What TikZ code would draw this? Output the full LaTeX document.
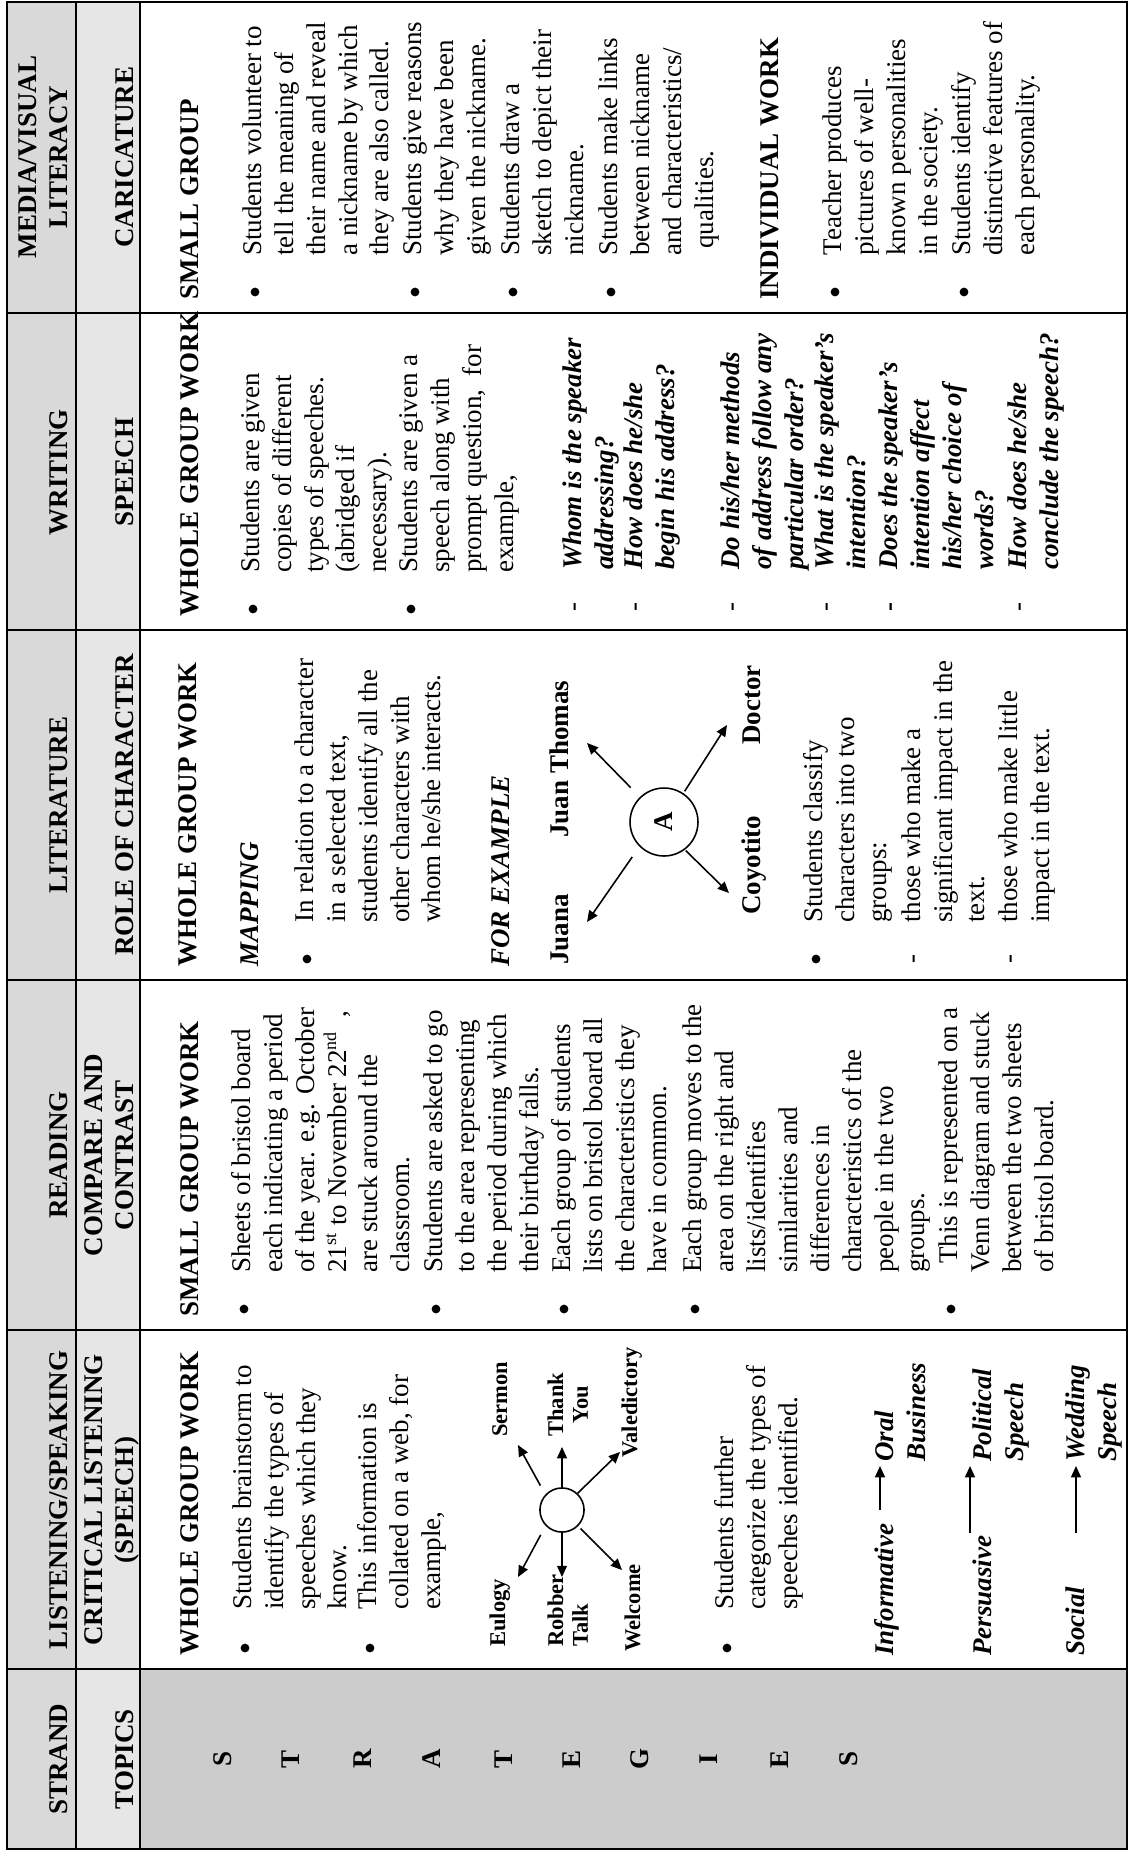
\documentclass[tikz,border=0pt]{standalone}
\usepackage{fontspec}
\setmainfont{Liberation Serif}
\usetikzlibrary{arrows.meta}

\definecolor{rowA}{HTML}{D9D9D9}
\definecolor{rowB}{HTML}{E6E6E6}
\definecolor{strandgray}{HTML}{CCCCCC}

% left-aligned and centred stacks of lines, baseline at the first line
\newcommand\mlines[1]{\begin{tabular}[t]{@{}l@{}}#1\end{tabular}}
\newcommand\clines[1]{\begin{tabular}[t]{@{}c@{}}#1\end{tabular}}

\begin{document}
\begin{tikzpicture}[x=0.4444pt,y=0.4444pt,
  hd/.style={font=\fontsize{12pt}{14pt}\selectfont\bfseries, inner sep=0pt, anchor=base},
  txt/.style={font=\fontsize{12pt}{14.22pt}\selectfont, inner sep=0pt, anchor=base west},
  btxt/.style={txt, font=\fontsize{12pt}{14.22pt}\selectfont\bfseries},
  bitxt/.style={txt, font=\fontsize{12pt}{14.22pt}\selectfont\bfseries\itshape},
  lbl/.style={font=\fontsize{10pt}{11.1pt}\selectfont\bfseries, inner sep=0pt, anchor=base west},
  bul/.style={circle, fill=black, inner sep=0pt, minimum size=3.9pt},
  arr/.style={-{Triangle[length=5pt,width=4.4pt]}, line width=0.7pt},
  grid/.style={line width=0.9pt},
  hub/.style={circle, draw, line width=0.7pt, inner sep=0pt},
]
\useasboundingbox (0,0) rectangle (1130,-1857);

% the table is laid out in landscape and turned a quarter turn
\begin{scope}[shift={(0,-1857)}, rotate=90, transform shape]

% shading of header rows and of the first column
\fill[rowA] (8,-7) rectangle (1855,-76);
\fill[rowB] (8,-76) rectangle (1855,-140);
\fill[strandgray] (8,-140) rectangle (188,-1127);

% rules
\draw[grid] (8,-7) rectangle (1855,-1127);
\draw[grid] (8,-76) -- (1855,-76);
\draw[grid] (8,-140) -- (1855,-140);
\foreach \u in {188,527,877,1227,1544} \draw[grid] (\u,-7) -- (\u,-1127);

% header cells
\node[hd] (hS1) at (98,-67) {STRAND};
\node[hd] (hS2) at (98,-133) {TOPICS};
\node[hd] (hL1) at (357,-67) {LISTENING/SPEAKING};
\node[hd] (hL2) at (357,-102) {CRITICAL LISTENING};
\node[hd] (hL3) at (357,-133) {(SPEECH)};
\node[hd] (hR1) at (702,-67) {READING};
\node[hd] (hR2) at (702,-102) {COMPARE AND};
\node[hd] (hR3) at (702,-133) {CONTRAST};
\node[hd] (hT1) at (1052,-67) {LITERATURE};
\node[hd] (hT2) at (1052,-133) {ROLE OF CHARACTER};
\node[hd] (hW1) at (1385,-67) {WRITING};
\node[hd] (hW2) at (1385,-133) {SPEECH};
\node[hd] (hM1) at (1700,-36) {MEDIA/VISUAL};
\node[hd] (hM2) at (1700,-67) {LITERACY};
\node[hd] (hM3) at (1700,-133) {CARICATURE};

% STRATEGIES down the first column
\foreach \l/\v [count=\i] in {S/223,T/291,R/363,A/432,T/504,E/572,G/640,I/709,E/780,S/849}
  \node[font=\fontsize{12pt}{14pt}\selectfont\bfseries, inner sep=0pt] (st\i) at (98,-\v) {\l};

% ---------- Listening / speaking ----------
\node[btxt] (lh) at (201,-198) {WHOLE GROUP WORK};
\node[bul] (lb1) at (209,-245) {};
\node[txt] (lt1) at (247,-251) {\mlines{Students brainstorm to\\identify the types of\\speeches which they\\know.}};
\node[bul] (lb2) at (209,-370) {};
\node[txt] (lt2) at (247,-376) {\mlines{This information is\\collated on a web, for\\example,}};

\node[hub, minimum size=19.6pt] (web) at (347,-562) {};
\node[lbl] (eul) at (210,-505) {Eulogy};
\node[lbl] (rob) at (210,-563) {\mlines{Robber\\Talk}};
\node[lbl] (wel) at (205,-640) {Welcome};
\node[lbl] (ser) at (420,-507) {Sermon};
\node[lbl] (thk) at (420,-563) {\clines{Thank\\You}};
\node[lbl] (val) at (399,-637) {Valedictory};
\coordinate (wt1) at (412,-518);
\coordinate (wt2) at (410,-562);
\coordinate (wt3) at (405,-620);
\coordinate (wt4) at (280,-518);
\coordinate (wt5) at (280,-562);
\coordinate (wt6) at (287,-622);
\draw[arr, shorten <=4.5pt] (web.47) -- (wt1);
\draw[arr] (web.0) -- (wt2);
\draw[arr] (web.-43) -- (wt3);
\draw[arr, shorten <=4.5pt] (web.134) -- (wt4);
\draw[arr] (web.180) -- (wt5);
\draw[arr, shorten <=1.5pt] (web.225) -- (wt6);

\node[bul] (lb3) at (209,-727) {};
\node[txt] (lt3) at (247,-733) {\mlines{Students further\\categorize the types of\\speeches identified.}};

\node[bitxt] (inf) at (201,-893) {Informative};
\node[bitxt] (ora) at (395,-893) {\mlines{Oral\\Business}};
\node[bitxt] (per) at (201,-991) {Persuasive};
\node[bitxt] (pol) at (395,-991) {\mlines{Political\\Speech}};
\node[bitxt] (soc) at (201,-1084) {Social};
\node[bitxt] (wed) at (395,-1084) {\mlines{Wedding\\Speech}};
\coordinate (ia) at (347,-880);
\coordinate (ib) at (391,-880);
\coordinate (pa) at (324,-970);
\coordinate (pb) at (391,-970);
\coordinate (sa) at (324,-1076);
\coordinate (sb) at (391,-1076);
\draw[arr] (ia) -- (ib);
\draw[arr] (pa) -- (pb);
\draw[arr] (sa) -- (sb);

% ---------- Reading ----------
\node[btxt] (rh) at (540,-198) {SMALL GROUP WORK};
\node[bul] (rb1) at (548,-244) {};
\node[txt] (rt1) at (584,-250) {\mlines{Sheets of bristol board\\each indicating a period\\of the year. e.g. October\\21\textsuperscript{st} to November 22\textsuperscript{nd}\hspace{6pt},\\are stuck around the\\classroom.}};
\node[bul] (rb2) at (548,-436) {};
\node[txt] (rt2) at (584,-442) {\mlines{Students are asked to go\\to the area representing\\the period during which\\their birthday falls.}};
\node[bul] (rb3) at (548,-564) {};
\node[txt] (rt3) at (584,-570) {\mlines{Each group of students\\lists on bristol board all\\the characteristics they\\have in common.}};
\node[bul] (rb4) at (548,-695) {};
\node[txt] (rt4) at (584,-701) {\mlines{Each group moves to the\\area on the right and\\lists/identifies\\similarities and\\differences in\\characteristics of the\\people in the two\\groups.}};
\node[bul] (rb5) at (548,-951) {};
\node[txt] (rt5) at (584,-957) {\mlines{\hspace{4pt}This is represented on a\\Venn diagram and stuck\\between the two sheets\\of bristol board.}};

% ---------- Literature ----------
\node[btxt] (th) at (890,-196) {WHOLE GROUP WORK};
\node[bitxt] (tmap) at (890,-258) {MAPPING};
\node[bul] (tb1) at (898,-307) {};
\node[txt] (tt1) at (934,-313) {\mlines{In relation to a character\\in a selected text,\\students identify all the\\other characters with\\whom he/she interacts.}};
\node[bitxt] (tfor) at (890,-509) {FOR EXAMPLE};

\node[hub, minimum size=30.2pt, font=\fontsize{12pt}{14pt}\selectfont\bfseries] (ca) at (1035,-664) {A};
\node[btxt] (jua) at (892,-568) {Juana};
\node[btxt] (jth) at (1019,-568) {Juan Thomas};
\node[btxt] (coy) at (942,-760) {Coyotito};
\node[btxt] (doc) at (1112,-760) {Doctor};
\coordinate (ct1) at (935,-587);
\coordinate (ct2) at (1114,-587);
\coordinate (ct3) at (1132,-727);
\coordinate (ct4) at (964,-729);
\draw[arr, shorten <=5.6pt] (ca.135) -- (ct1);
\draw[arr, shorten <=5.8pt] (ca.44) -- (ct2);
\draw[arr, shorten <=1pt] (ca.-34) -- (ct3);
\draw[arr, shorten <=0.5pt] (ca.217) -- (ct4);

\node[bul] (tb2) at (898,-816) {};
\node[txt] (tt2) at (934,-822) {\mlines{Students classify\\characters into two\\groups:}};
\node[txt] (td1) at (893,-920) {-};
\node[txt] (tt3) at (934,-920) {\mlines{those who make a\\significant impact in the\\text.}};
\node[txt] (td2) at (893,-1017) {-};
\node[txt] (tt4) at (934,-1017) {\mlines{those who make little\\impact in the text.}};

% ---------- Writing ----------
\node[btxt] (wh) at (1240,-198) {WHOLE GROUP WORK};
\node[bul] (wb1) at (1248,-253) {};
\node[txt] (wx1) at (1284,-259) {\mlines{Students are given\\copies of different\\types of speeches.\\(abridged if\\necessary).}};
\node[bul] (wb2) at (1248,-411) {};
\node[txt] (wx2) at (1284,-417) {\mlines{Students are given a\\speech along with\\prompt question,\ \ for\\example,}};
\node[txt] (wd1) at (1245,-581) {-};
\node[bitxt] (wq1) at (1287,-581) {\mlines{Whom is the speaker\\addressing?}};
\node[txt] (wd2) at (1245,-642) {-};
\node[bitxt] (wq2) at (1287,-642) {\mlines{How does he/she\\begin his address?}};
\node[txt] (wd3) at (1245,-739) {-};
\node[bitxt] (wq3) at (1287,-739) {\mlines{Do his/her methods\\of address follow any\\particular order?}};
\node[txt] (wd4) at (1245,-833) {-};
\node[bitxt] (wq4) at (1287,-833) {\mlines{What is the speaker’s\\intention?}};
\node[btxt] (wd5) at (1245,-897) {-};
\node[bitxt] (wq5) at (1287,-897) {\mlines{Does the speaker’s\\intention affect\\his/her choice of\\words?}};
\node[txt] (wd6) at (1245,-1026) {-};
\node[bitxt] (wq6) at (1287,-1026) {\mlines{How does he/she\\conclude the speech?}};

% ---------- Media / visual literacy ----------
\node[btxt] (mh) at (1557,-198) {SMALL GROUP};
\node[bul] (mb1) at (1565,-255) {};
\node[txt] (mt1) at (1601,-261) {\mlines{Students volunteer to\\tell the meaning of\\their name and reveal\\a nickname by which\\they are also called.}};
\node[bul] (mb2) at (1565,-415) {};
\node[txt] (mt2) at (1601,-421) {\mlines{Students give reasons\\why they have been\\given the nickname.}};
\node[bul] (mb3) at (1565,-513) {};
\node[txt] (mt3) at (1601,-519) {\mlines{Students draw a\\sketch to depict their\\nickname.}};
\node[bul] (mb4) at (1565,-611) {};
\node[txt] (mt4) at (1601,-617) {\mlines{Students make links\\between nickname\\and characteristics/\\\hspace{3pt}qualities.}};
\node[btxt] (mh2) at (1557,-778) {INDIVIDUAL WORK};
\node[bul] (mb5) at (1565,-835) {};
\node[txt] (mt5) at (1601,-841) {\mlines{Teacher produces\\pictures of well-\\known personalities\\in the society.}};
\node[bul] (mb6) at (1565,-964) {};
\node[txt] (mt6) at (1601,-970) {\mlines{Students identify\\distinctive features of\\each personality.}};

\end{scope}
\end{tikzpicture}
\end{document}
